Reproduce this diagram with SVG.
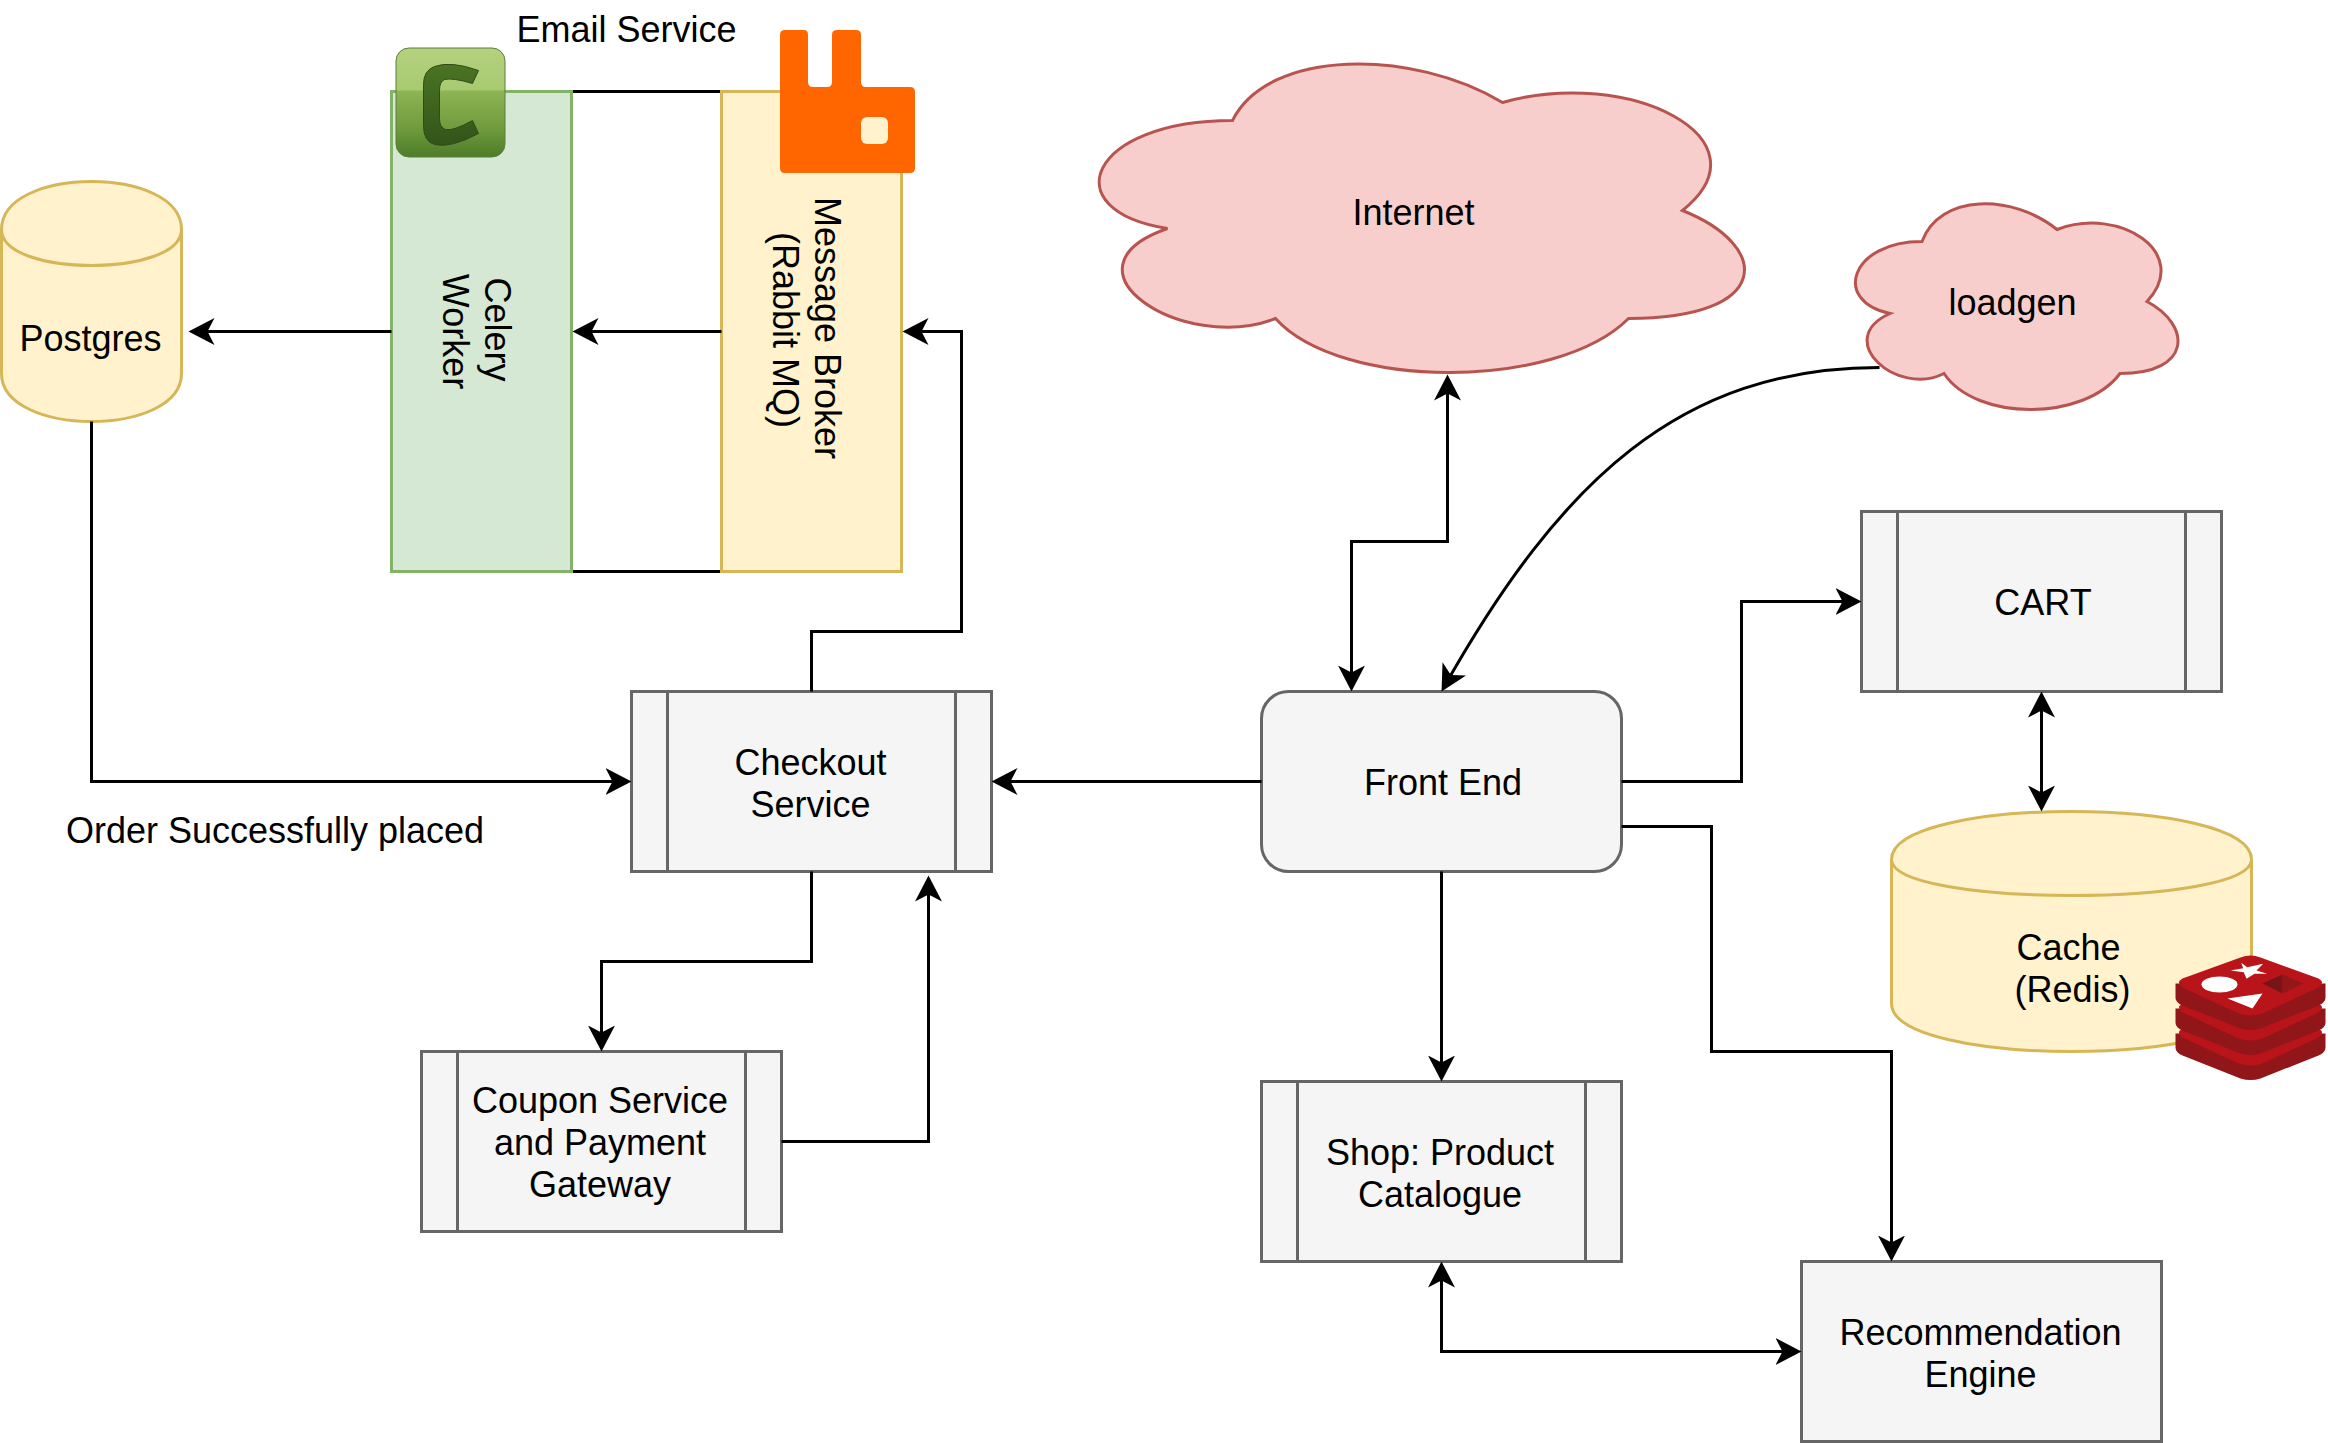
<svg xmlns="http://www.w3.org/2000/svg" width="2328" height="1443" viewBox="0 0 2328 1443">
<style>
text{font-family:"Liberation Sans",Arial,sans-serif;font-size:36px;fill:#000;text-anchor:middle}
.grey{fill:#f5f5f5;stroke:#666;stroke-width:3}
.yellow{fill:#fff2cc;stroke:#d6b656;stroke-width:3}
.green{fill:#d5e8d4;stroke:#82b366;stroke-width:3}
.pink{fill:#f8cecc;stroke:#b85450;stroke-width:3}
.edge{fill:none;stroke:#000;stroke-width:3}
.a{marker-end:url(#ah)}
.b{marker-start:url(#as);marker-end:url(#ah)}
.rt{fill:#b9141a}.rd{fill:#911619}
</style>
<defs>
<marker id="ah" markerUnits="userSpaceOnUse" markerWidth="30" markerHeight="30" refX="22" refY="14" orient="auto"><path d="M0,0.5 L26,14 L0,27.5 L7,14 Z" fill="#000"/></marker>
<marker id="as" markerUnits="userSpaceOnUse" markerWidth="30" markerHeight="30" refX="22" refY="14" orient="auto-start-reverse"><path d="M0,0.5 L26,14 L0,27.5 L7,14 Z" fill="#000"/></marker>
<linearGradient id="celTop" x1="0" y1="0" x2="0" y2="1"><stop offset="0" stop-color="#b5d17f"/><stop offset="0.38" stop-color="#a8ca70"/><stop offset="0.4" stop-color="#8db354"/><stop offset="0.75" stop-color="#6f9a3c"/><stop offset="1" stop-color="#4c7c28"/></linearGradient>
<linearGradient id="celC" x1="0" y1="0" x2="0" y2="1"><stop offset="0" stop-color="#4a7423"/><stop offset="1" stop-color="#33541a"/></linearGradient>
<g id="redis-layer">
<path class="rd" d="M2175,983V997Q2175,1002 2182,1005L2240,1028Q2250,1031 2260,1028L2318,1005Q2325,1002 2325,997V983Z"/>
<path class="rt" d="M2240,957Q2250,953 2260,957L2318,978Q2325,982 2318,987L2262,1013Q2250,1017 2238,1013L2182,987Q2175,982 2182,978Z"/>
</g>
</defs>
<rect width="2328" height="1443" fill="#fff"/>
<g transform="translate(0.5,0.5)">

<g id="link-lines">
<path class="edge" d="M572,91H721M572,571H721"/>
</g>

<g id="celery-worker">
<rect class="green" x="391" y="91" width="180" height="480"/>
<text transform="translate(476,331) rotate(90)"><tspan x="-2" y="-8">Celery</tspan><tspan x="0" y="34">Worker</tspan></text>
<rect x="395.5" y="47.5" width="109" height="109" rx="13" fill="url(#celTop)" stroke="#5c7f3a" stroke-width="1"/>
<path d="M478,70L472,83Q452,77 444,79Q439,81 439,90L439,118Q439,127 445,129Q452,131 472,120L478,133Q450,148 434,144Q423,141 423,125L423,84Q423,70 434,66Q450,60 478,70Z" fill="url(#celC)" stroke="#2f4c16" stroke-width="1"/>
</g>

<g id="message-broker">
<rect class="yellow" x="721" y="91" width="180" height="480"/>
<text transform="translate(812,327.5) rotate(90)"><tspan x="0" y="-2">Message Broker</tspan><tspan x="2" y="40">(Rabbit MQ)</tspan></text>
<path d="M784.5,29.5H803.5Q807.5,29.5 807.5,34.5V81.5Q807.5,86.5 812.5,86.5H826.5Q831.5,86.5 831.5,81.5V34.5Q831.5,29.5 836.5,29.5H855.5Q860.5,29.5 860.5,34.5V81.5Q860.5,86.5 865.5,86.5H909.5Q914.5,86.5 914.5,91.5V167.5Q914.5,172.5 909.5,172.5H784.5Q779.5,172.5 779.5,167.5V34.5Q779.5,29.5 784.5,29.5Z" fill="#f60"/>
<rect x="860.5" y="116.5" width="27" height="27" rx="6" fill="#fff2cc"/>
</g>

<g id="email-service-label"><text x="626" y="41">Email Service</text></g>

<g id="postgres">
<path class="yellow" d="M1,229C1,165 181,165 181,229V373C181,437 1,437 1,373Z"/>
<path class="yellow" style="fill:none" d="M1,229C1,277 181,277 181,229"/>
<text x="90" y="350">Postgres</text>
</g>

<g id="order-label"><text x="274.5" y="842">Order Successfully placed</text></g>

<g id="checkout-service">
<rect class="grey" x="631" y="691" width="360" height="180"/>
<path class="grey" style="fill:none" d="M667,691V871M955,691V871"/>
<text x="810" y="774">Checkout</text><text x="810" y="816">Service</text>
</g>

<g id="coupon-service">
<rect class="grey" x="421" y="1051" width="360" height="180"/>
<path class="grey" style="fill:none" d="M457,1051V1231M745,1051V1231"/>
<text x="599.5" y="1112">Coupon Service</text><text x="599.5" y="1154">and Payment</text><text x="599.5" y="1196">Gateway</text>
</g>

<g id="front-end">
<rect class="grey" x="1261" y="691" width="360" height="180" rx="27"/>
<text x="1442.5" y="794">Front End</text>
</g>

<g id="shop-catalogue">
<rect class="grey" x="1261" y="1081" width="360" height="180"/>
<path class="grey" style="fill:none" d="M1297,1081V1261M1585,1081V1261"/>
<text x="1439.5" y="1164">Shop: Product</text><text x="1439.5" y="1206">Catalogue</text>
</g>

<g id="recommendation-engine">
<rect class="grey" x="1801" y="1261" width="360" height="180"/>
<text x="1980" y="1344">Recommendation</text><text x="1980" y="1386">Engine</text>
</g>

<g id="cart">
<rect class="grey" x="1861" y="511" width="360" height="180"/>
<path class="grey" style="fill:none" d="M1897,511V691M2185,511V691"/>
<text x="2042.5" y="614">CART</text>
</g>

<g id="cache-redis">
<path class="yellow" d="M1891,859C1891,795 2251,795 2251,859V1003C2251,1067 1891,1067 1891,1003Z"/>
<path class="yellow" style="fill:none" d="M1891,859C1891,907 2251,907 2251,859"/>
<text x="2068" y="959">Cache</text><text x="2072" y="1001">(Redis)</text>
<g id="redis-icon">
<use href="#redis-layer" y="50"/>
<use href="#redis-layer" y="25"/>
<use href="#redis-layer"/>
<ellipse cx="2219" cy="984" rx="18" ry="8" fill="#fff"/>
<path d="M2240.7,962.3L2246.7,966.7L2262.7,963.3L2256,970L2266.7,973.3L2254,973.3L2246,978.3L2243.3,971.7L2230,970L2242.7,967.7Z" fill="#fff"/>
<path d="M2227,998L2262,993L2252,1008Z" fill="#fff"/>
<path d="M2262,983L2282,974L2282,993Z" fill="#771417"/>
<path d="M2282,974L2303,983L2282,993Z" fill="#931719"/>
</g>
</g>

<g id="internet">
<path class="pink" d="M1232,120C1088,120 1052,210 1167,228C1052,268 1182,354 1275,318C1340,390 1556,390 1628,318C1772,318 1772,246 1682,210C1772,138 1628,66 1502,102C1412,48 1268,48 1232,120Z"/>
<text x="1413" y="224">Internet</text>
</g>

<g id="loadgen">
<path class="pink" d="M1921.5,241C1849.5,241 1831.5,301 1889.5,313C1831.5,339 1896.5,397 1943.5,373C1975.5,421 2083.5,421 2119.5,373C2191.5,373 2191.5,325 2146.5,301C2191.5,253 2119.5,205 2056.5,229C2011.5,193 1939.5,193 1921.5,241Z"/>
<text x="2012" y="314">loadgen</text>
</g>

<g id="connectors">
<path class="edge b" d="M1447,378V541H1351V687"/>
<path class="edge a" d="M1879,367C1680,367 1560,480 1443,687.5"/>
<path class="edge a" d="M1621,781H1741V601H1857"/>
<path class="edge a" d="M1621,826H1711V1051H1891V1257"/>
<path class="edge a" d="M1441,871V1077"/>
<path class="edge b" d="M1441,1265V1351H1797"/>
<path class="edge b" d="M2041,695V807"/>
<path class="edge a" d="M1261,781H995"/>
<path class="edge a" d="M811,691V631H961V331H906"/>
<path class="edge a" d="M721,331H576"/>
<path class="edge a" d="M391,331H192"/>
<path class="edge a" d="M91,421V781H627"/>
<path class="edge a" d="M811,871V961H601V1047"/>
<path class="edge a" d="M781,1141H928V879"/>
</g>
</g>
</svg>
